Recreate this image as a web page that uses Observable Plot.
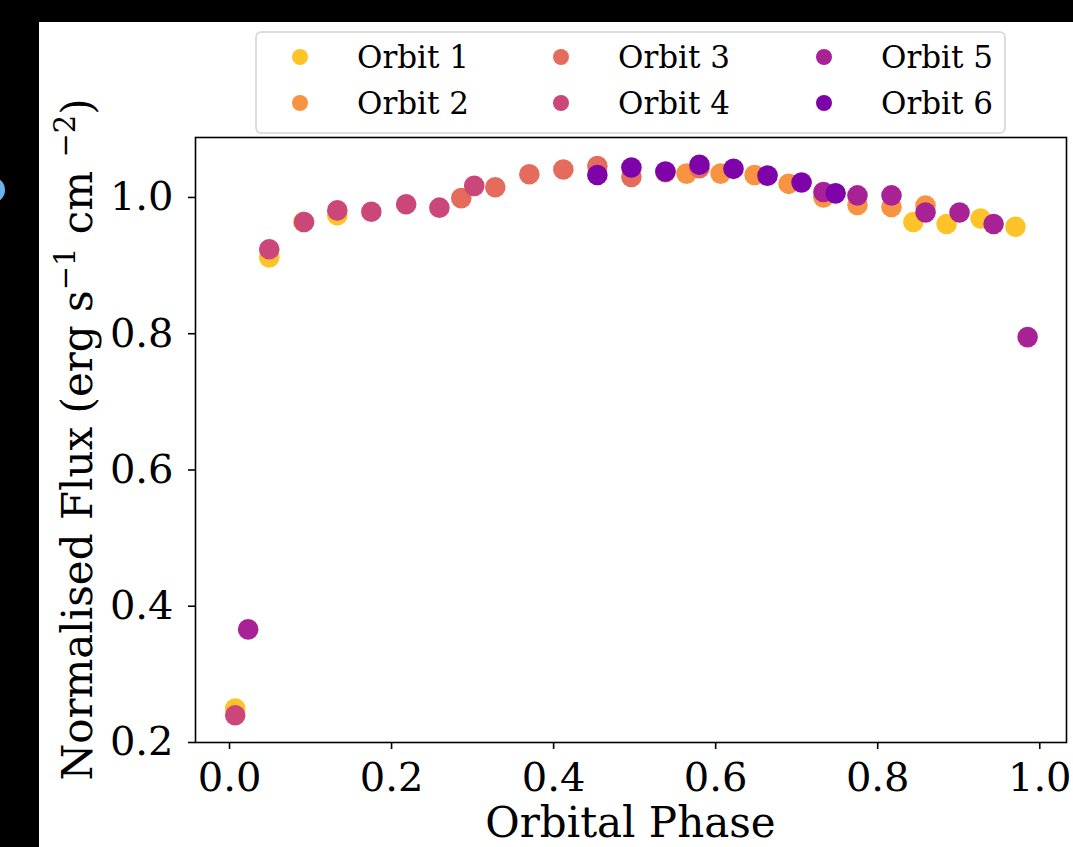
<!DOCTYPE html>
<html>
<head>
<meta charset="utf-8">
<script src="https://cdn.jsdelivr.net/npm/d3@7"></script>
<script src="https://cdn.jsdelivr.net/npm/@observablehq/plot@0.6"></script>
<style>
  html, body { margin: 0; padding: 0; background: #000; width: 1073px; height: 847px; overflow: hidden; }
  body { position: relative; }
  #panel { position: absolute; left: 39px; top: 22px; width: 1034px; height: 825px; background: #fff; }
  #blob { position: absolute; left: -21px; top: 177px; width: 26px; height: 26px; border-radius: 50%; background: #6cb2ea; }
  #chart { position: absolute; left: 0; top: 0; }
</style>
</head>
<body>
<div id="panel"></div>
<div id="blob"></div>
<div id="chart"></div>
<script>
// ---- data ----
const orbits = ["Orbit 1", "Orbit 2", "Orbit 3", "Orbit 4", "Orbit 5", "Orbit 6"];
const colors = ["#fdc328", "#f89441", "#e56b5d", "#cb4679", "#a82296", "#7e03a8"];

const phase1 = [0.007, 0.049, 0.091, 0.133, 0.844, 0.885, 0.927, 0.970];
const flux1  = [0.250, 0.912, 0.964, 0.974, 0.964, 0.961, 0.969, 0.957];

const phase2 = [0.564, 0.606, 0.648, 0.690, 0.733, 0.775, 0.817, 0.859];
const flux2  = [1.035, 1.035, 1.033, 1.020, 1.000, 0.989, 0.986, 0.988];

const phase3 = [0.286, 0.328, 0.370, 0.412, 0.454, 0.496, 0.538, 0.580];
const flux3  = [0.999, 1.015, 1.034, 1.041, 1.046, 1.030, 1.037, 1.043];

const phase4 = [0.007, 0.049, 0.092, 0.133, 0.175, 0.218, 0.259, 0.302];
const flux4  = [0.240, 0.924, 0.964, 0.981, 0.979, 0.990, 0.985, 1.017];

const phase5 = [0.023, 0.733, 0.775, 0.817, 0.859, 0.901, 0.943, 0.985];
const flux5  = [0.366, 1.008, 1.003, 1.003, 0.978, 0.978, 0.961, 0.795];

const phase6 = [0.454, 0.496, 0.538, 0.580, 0.622, 0.664, 0.706, 0.748];
const flux6  = [1.033, 1.044, 1.038, 1.048, 1.042, 1.032, 1.022, 1.006];

const xTicks = [0.0, 0.2, 0.4, 0.6, 0.8, 1.0];
const yTicks = [0.2, 0.4, 0.6, 0.8, 1.0];

const phases = [phase1, phase2, phase3, phase4, phase5, phase6];
const fluxes = [flux1, flux2, flux3, flux4, flux5, flux6];
const rows = [];
orbits.forEach((o, i) => phases[i].forEach((p, j) => rows.push({orbit: o, phase: p, flux: fluxes[i][j]})));

// ---- chart ----
const W = 1073, H = 847;
const mL = 195, mT = 137, mR = 7, mB = 105;
const font = "DejaVu Serif, serif";

const chart = Plot.plot({
  width: W, height: H,
  marginLeft: mL, marginTop: mT, marginRight: mR, marginBottom: mB,
  style: {background: "transparent", fontFamily: font, color: "black", overflow: "visible"},
  x: {domain: [-0.042, 1.033]},
  y: {domain: [0.2, 1.088]},
  color: {domain: orbits, range: colors},
  marks: [
    Plot.dot(rows, {x: "phase", y: "flux", fill: "orbit", r: 10.3, stroke: "none", fillOpacity: 1}),
    Plot.frame({stroke: "black", strokeWidth: 1.6}),
    Plot.axisX({ticks: xTicks, tickFormat: d => d.toFixed(1), tickSize: 7, tickPadding: 13,
                fontSize: 40, strokeWidth: 1.6, label: null, fill: "black"}),
    Plot.axisY({ticks: yTicks, tickFormat: d => d.toFixed(1), tickSize: 7, tickPadding: 15,
                fontSize: 40, strokeWidth: 1.6, label: null, fill: "black"})
  ]
});
document.getElementById("chart").appendChild(chart);

const svg = d3.select(chart);

// x axis label
svg.append("text")
  .attr("x", (mL + (W - mR)) / 2).attr("y", 837)
  .attr("text-anchor", "middle")
  .attr("font-family", font).attr("font-size", 42).attr("fill", "black")
  .text("Orbital Phase");

// y axis label with superscripts
const yl = svg.append("text")
  .attr("transform", `translate(92,${(mT + (H - mB)) / 2}) rotate(-90)`)
  .attr("text-anchor", "middle")
  .attr("font-family", font).attr("font-size", 42).attr("fill", "black");
yl.append("tspan").text("Normalised Flux (erg s");
yl.append("tspan").attr("font-size", 29).attr("dy", -17).text("\u22121");
yl.append("tspan").attr("dy", 17).text(" cm ");
yl.append("tspan").attr("font-size", 29).attr("dy", -17).text("\u22122");
yl.append("tspan").attr("dy", 17).text(")");

// legend
const lg = svg.append("g");
lg.append("rect").attr("x", 256).attr("y", 32).attr("width", 749).attr("height", 101)
  .attr("rx", 5).attr("fill", "white").attr("fill-opacity", 0.8)
  .attr("stroke", "#d4d4d4").attr("stroke-width", 1.6);
const colX = [300, 561, 824], rowY = [57, 103];
orbits.forEach((o, i) => {
  const cx = colX[Math.floor(i / 2)], cy = rowY[i % 2];
  lg.append("circle").attr("cx", cx).attr("cy", cy).attr("r", 8).attr("fill", colors[i]);
  lg.append("text").attr("x", cx + 57).attr("y", cy).attr("dy", "0.35em")
    .attr("text-anchor", "start")
    .attr("font-family", font).attr("font-size", 31).attr("fill", "black").text(o);
});
</script>
</body>
</html>
